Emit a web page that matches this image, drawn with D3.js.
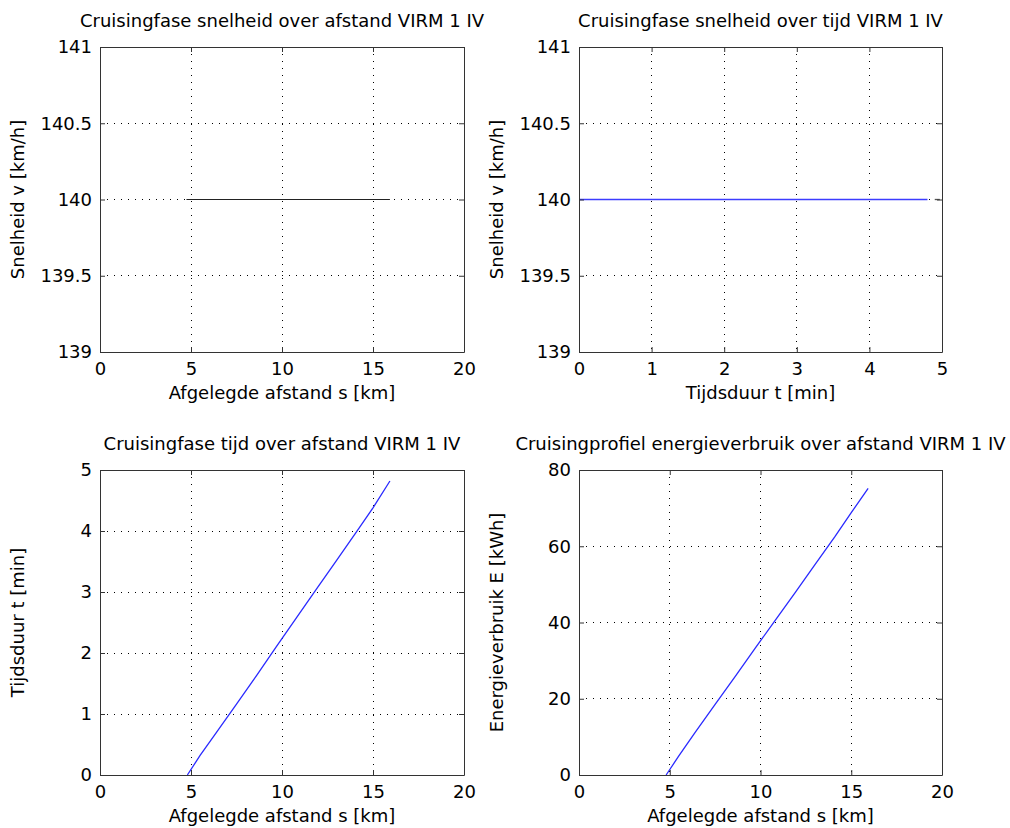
<!DOCTYPE html>
<html><head><meta charset="utf-8">
<script src="https://cdn.jsdelivr.net/npm/d3@7"></script>
<style>body{margin:0;background:#fff}svg text{font-family:"DejaVu Sans",sans-serif;fill:#000}</style>
</head><body><svg id="c" width="1010" height="828"></svg>
<script>
// ---- data ----
const titles = ["Cruisingfase snelheid over afstand VIRM 1 IV","Cruisingfase snelheid over tijd VIRM 1 IV","Cruisingfase tijd over afstand VIRM 1 IV","Cruisingprofiel energieverbruik over afstand VIRM 1 IV"];
const xLabels = ["Afgelegde afstand s [km]","Tijdsduur t [min]","Afgelegde afstand s [km]","Afgelegde afstand s [km]"];
const yLabels = ["Snelheid v [km/h]","Snelheid v [km/h]","Tijdsduur t [min]","Energieverbruik E [kWh]"];
const distTicks = [0,5,10,15,20];
const speedTicks = [139,139.5,140,140.5,141];
const timeTicks = [0,1,2,3,4,5];
const energyTicks = [0,20,40,60,80];
// panel 1: speed vs distance
const p1Dist = [4.75, 15.93];
const p1Speed = [140, 140];
// panel 2: speed vs time
const p2Time = [0, 4.8];
const p2Speed = [140, 140];
const p2bTime = [4.9, 4.97];
const p2bSpeed = [140, 140];
// panel 3: time vs distance
const p3Dist = [4.8, 5.5, 6.4, 7.5, 8.6, 9.7, 10.8, 11.9, 13.0, 14.1, 15.0, 15.93];
const p3Time = [0, 0.32, 0.70, 1.16, 1.63, 2.11, 2.58, 3.05, 3.52, 3.99, 4.38, 4.82];
// panel 4: energy vs distance
const p4Dist = [4.8, 5.5, 6.4, 7.5, 8.6, 9.7, 10.8, 11.9, 13.0, 14.1, 15.0, 15.93];
const p4Energy = [0, 5.0, 11.2, 18.5, 25.8, 33.2, 40.5, 47.8, 55.2, 62.5, 68.8, 75.2];

const svg = d3.select("#c");
const panels = [
  {x0:100,x1:464,y0:47,y1:352, xd:[0,20], yd:[139,141], xt:distTicks, yt:speedTicks,
   series:[{x:p1Dist,y:p1Speed,c:"#222",w:1}]},
  {x0:579,x1:942,y0:47,y1:352, xd:[0,5], yd:[139,141], xt:timeTicks, yt:speedTicks,
   series:[{x:p2Time,y:p2Speed,c:"#3c3cff",w:1.6},{x:p2bTime,y:p2bSpeed,c:"#555",w:1.3}]},
  {x0:100,x1:464,y0:470,y1:775, xd:[0,20], yd:[0,5], xt:distTicks, yt:timeTicks,
   series:[{x:p3Dist,y:p3Time,c:"#2a2aff",w:1.3}]},
  {x0:579,x1:942,y0:470,y1:775, xd:[0,20], yd:[0,80], xt:distTicks, yt:energyTicks,
   series:[{x:p4Dist,y:p4Energy,c:"#2a2aff",w:1.3}]}
];
const fmt = d => String(d);
panels.forEach((p,i)=>{
  const x = d3.scaleLinear().domain(p.xd).range([p.x0,p.x1]);
  const y = d3.scaleLinear().domain(p.yd).range([p.y1,p.y0]);
  const g = svg.append("g");
  // grid
  g.selectAll(".gx").data(p.xt.slice(1,-1)).join("line")
    .attr("x1",d=>Math.floor(x(d))+0.5).attr("x2",d=>Math.floor(x(d))+0.5)
    .attr("y1",p.y0).attr("y2",p.y1).attr("stroke","#000").attr("stroke-width",1).attr("stroke-dasharray","1,6");
  g.selectAll(".gy").data(p.yt.slice(1,-1)).join("line")
    .attr("y1",d=>Math.floor(y(d))+0.5).attr("y2",d=>Math.floor(y(d))+0.5)
    .attr("x1",p.x0).attr("x2",p.x1).attr("stroke","#000").attr("stroke-width",1).attr("stroke-dasharray","1,6");
  // series
  p.series.forEach(s=>{
    const pts = s.x.map((v,k)=>[x(v),y(s.y[k])]);
    g.append("path").attr("d",d3.line()(pts)).attr("fill","none").attr("stroke",s.c).attr("stroke-width",s.w);
  });
  // axes with inward ticks
  const ax = [
    d3.axisBottom(x).tickValues(p.xt).tickSize(-5).tickSizeOuter(0).tickPadding(10).tickFormat(fmt),
    d3.axisTop(x).tickValues(p.xt).tickSize(-5).tickSizeOuter(0).tickFormat(""),
    d3.axisLeft(y).tickValues(p.yt).tickSize(-5).tickSizeOuter(0).tickPadding(8).tickFormat(fmt),
    d3.axisRight(y).tickValues(p.yt).tickSize(-5).tickSizeOuter(0).tickFormat("")
  ];
  const trans = [`translate(0,${p.y1})`,`translate(0,${p.y0})`,`translate(${p.x0},0)`,`translate(${p.x1},0)`];
  ax.forEach((a,k)=>{
    const ag = g.append("g").attr("transform",trans[k]).call(a);
    ag.selectAll("path.domain").attr("stroke","#333");
    ag.selectAll(".tick line").attr("stroke","#333");
    ag.selectAll("text").style("font-size","18px").style("font-family","'DejaVu Sans',sans-serif").attr("fill","#000");
  });
  g.append("text").attr("x",(p.x0+p.x1)/2).attr("y",p.y0-20).attr("text-anchor","middle").style("font-size","18px").text(titles[i]);
  g.append("text").attr("x",(p.x0+p.x1)/2).attr("y",p.y1+47).attr("text-anchor","middle").style("font-size","18px").text(xLabels[i]);
  g.append("text").attr("transform",`translate(${p.x0-76},${(p.y0+p.y1)/2}) rotate(-90)`).attr("text-anchor","middle").style("font-size","18px").text(yLabels[i]);
});
</script></body></html>
